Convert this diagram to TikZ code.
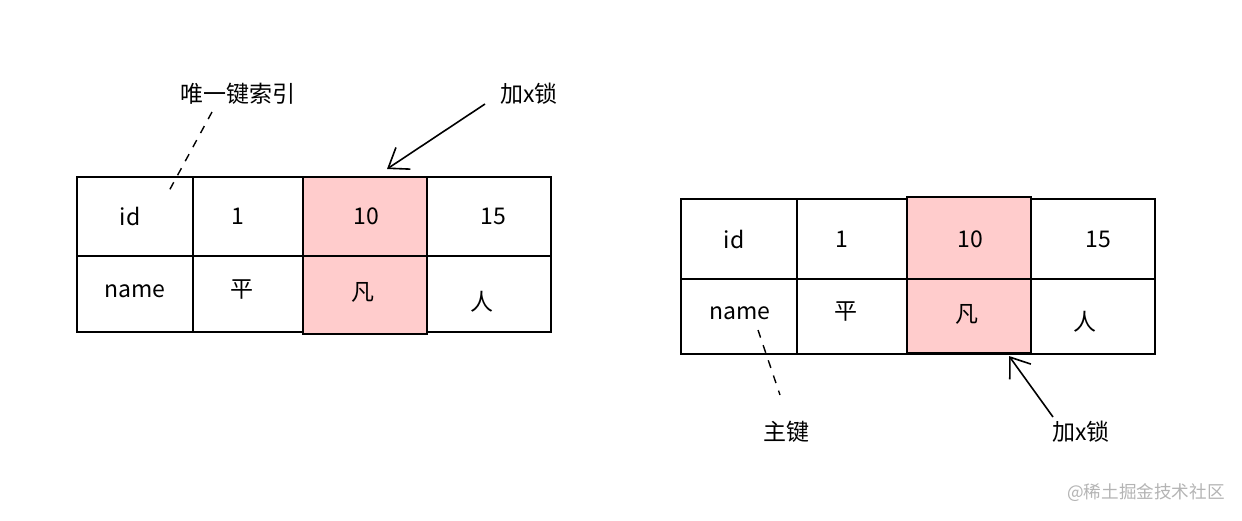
\documentclass[tikz,border=0pt]{standalone}
\usepackage{fontspec}
\setmainfont{Noto Sans CJK SC}
\usetikzlibrary{arrows.meta}
\definecolor{lockpink}{HTML}{FFCCCC}
\definecolor{wm}{HTML}{B4B4B4}
\tikzset{
  grid/.style={draw=black, line width=1pt},
  pinkcell/.style={fill=lockpink, draw=black, line width=1.4pt},
  txt/.style={font=\fontsize{11.5}{13}\selectfont, inner sep=0pt},
  lbl/.style={font=\fontsize{11.5}{13}\selectfont, inner sep=1pt},
  dashlink/.style={draw=black, line width=0.7pt, dash pattern=on 4pt off 4pt},
  arrowlink/.style={draw=black, line width=0.8pt, -{Straight Barb[length=9pt,width=13pt,line width=0.8pt]}},
}
\begin{document}
\begin{tikzpicture}[x=0.5pt,y=-0.5pt]
\useasboundingbox (0,0) rectangle (1242,520);
\fill[white] (0,0) rectangle (1242,520);
% ---------- left table ----------
\draw[grid] (77,177) rectangle (551,332);
\draw[grid] (77,256) -- (551,256);
\draw[grid] (193,177) -- (193,332);
\draw[pinkcell] (303,177) rectangle (427,256);
\draw[pinkcell] (303,256) rectangle (427,334);
\node[txt] (l-id) at (130,216) {id};
\node[txt] (l-1) at (238,216) {1};
\node[txt] (l-10) at (366,216) {10};
\node[txt] (l-15) at (493,216) {15};
\node[txt] (l-name) at (135,291) {name};
\node[txt] (l-ping) at (242,290) {平};
\node[txt] (l-fan) at (363,292) {凡};
\node[txt] (l-ren) at (482,302) {人};
\coordinate (l-dash-end) at (169,191);
\coordinate (l-lock-tip) at (387,169);
\node[lbl] (l-uidx) at (238,94) {唯一键索引};
\node[lbl] (l-lock) at (529,94) {加x锁};
\draw[dashlink] (212,112) -- (l-dash-end);
\draw[arrowlink] (485,104) -- (l-lock-tip);
% ---------- right table ----------
\draw[grid] (681,199) rectangle (1155,354);
\draw[grid] (681,279) -- (1155,279);
\draw[grid] (797,199) -- (797,354);
\draw[pinkcell] (907,197) rectangle (1031,279);
\draw[pinkcell] (907,279) rectangle (1031,353);
\node[txt] (r-id) at (734,239) {id};
\node[txt] (r-1) at (842,239) {1};
\node[txt] (r-10) at (970,239) {10};
\node[txt] (r-15) at (1098,239) {15};
\node[txt] (r-name) at (740,313) {name};
\node[txt] (r-ping) at (846,312) {平};
\node[txt] (r-fan) at (967,314) {凡};
\node[txt] (r-ren) at (1085,322) {人};
\node[lbl] (r-pk) at (786,432) {主键};
\node[lbl] (r-lock) at (1081,432) {加x锁};
\coordinate (r-dash-start) at (758,330);
\coordinate (r-dash-end) at (780,395);
\coordinate (r-lock-start) at (1053,417);
\coordinate (r-lock-tip) at (1009,356);
\draw[dashlink] (r-dash-start) -- (r-dash-end);
\draw[arrowlink] (r-lock-start) -- (r-lock-tip);
% ---------- watermark ----------
\node[font=\fontsize{8.8}{10}\selectfont, text=wm, inner sep=0pt] (wmark) at (1146,493) {@稀土掘金技术社区};
\end{tikzpicture}
\end{document}
